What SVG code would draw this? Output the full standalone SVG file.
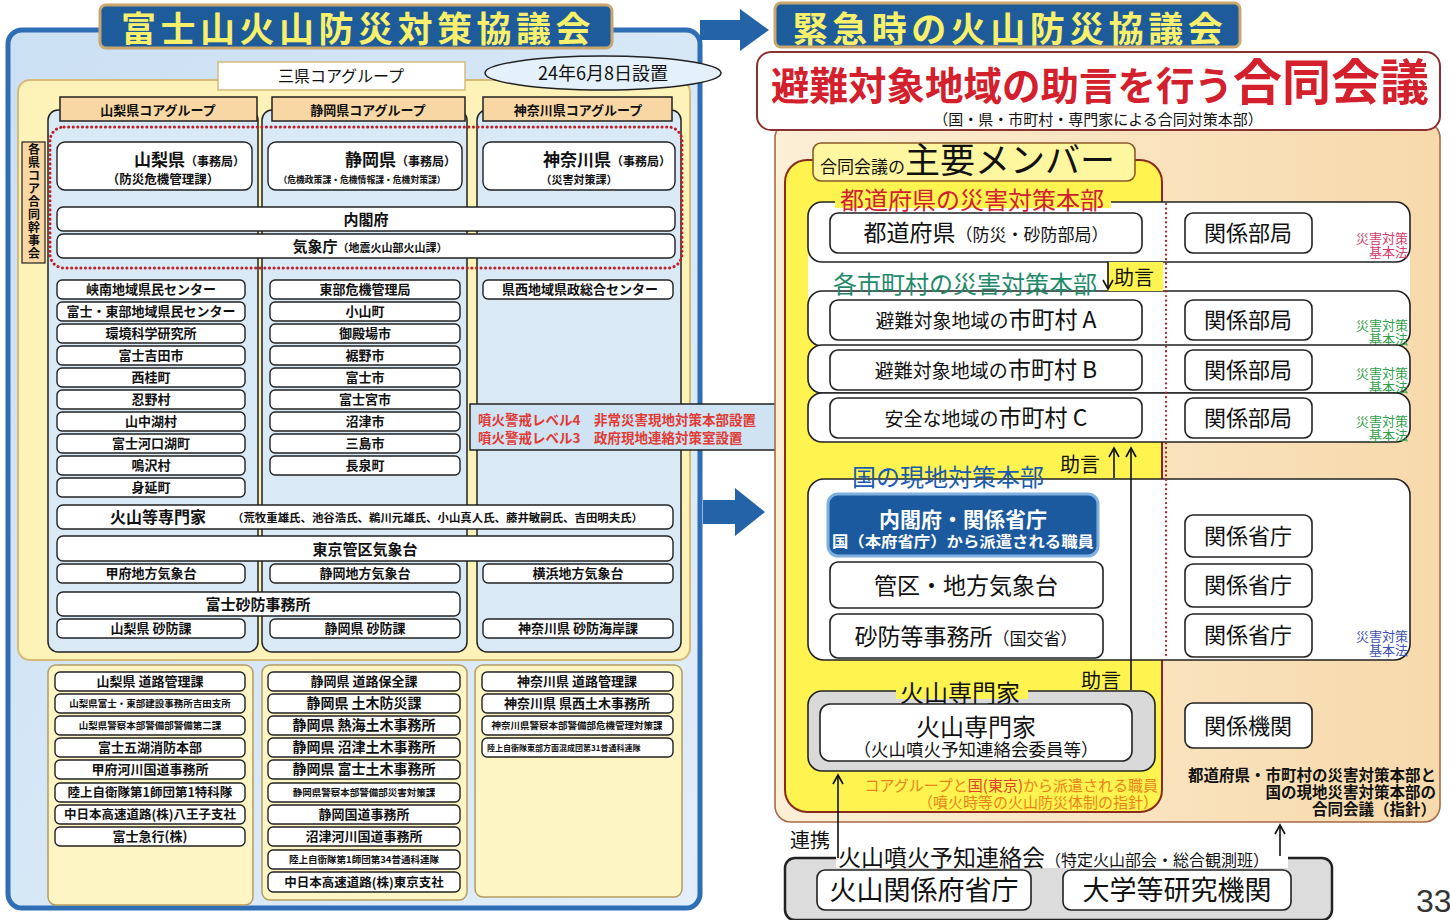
<svg xmlns="http://www.w3.org/2000/svg" width="1450" height="920" viewBox="0 0 1450 920">
<defs>
<style>
text{font-family:"Noto Sans CJK JP","Noto Sans CJK SC","Noto Sans",sans-serif;fill:#111;}
.lb{fill:#fff;stroke:#222;stroke-width:1.4;}
.lt{font-size:13px;font-weight:700;text-anchor:middle;}
.lm{font-size:14px;font-weight:700;text-anchor:middle;}
.ls{font-size:9.5px;font-weight:700;text-anchor:middle;}
.title{font-size:35px;fill:#f8f06a;font-weight:700;text-anchor:middle;letter-spacing:4.5px;}
.tbox{fill:#1d5b9b;stroke:#c8a66e;stroke-width:3;}
.col{fill:#d9e9f6;stroke:#222;stroke-width:1.5;}
.hdr{fill:#f8d7a4;stroke:#222;stroke-width:1.5;}
.ycol{fill:#fdf5c3;stroke:#b79a60;stroke-width:1.5;}
.sec{fill:#fff;stroke:#222;stroke-width:1.6;}
.rb{fill:#fff;stroke:#222;stroke-width:1.6;}
.rt{font-size:22px;text-anchor:middle;}
.law{font-size:13px;text-anchor:end;}
.lbl{font-size:24px;}
.ln{fill:none;stroke:#111;stroke-width:1.6;}
</style>
<marker id="ah" viewBox="0 0 12 12" refX="10" refY="6" markerWidth="12" markerHeight="12" markerUnits="userSpaceOnUse" orient="auto"><path d="M1,1 L10,6 L1,11" fill="none" stroke="#111" stroke-width="1.6"/></marker>
<linearGradient id="gBlue" x1="0" y1="0" x2="1" y2="1"><stop offset="0" stop-color="#cbe0f3"/><stop offset="1" stop-color="#e2eef9"/></linearGradient>
<linearGradient id="gTan" x1="0" y1="0" x2="1" y2="0"><stop offset="0" stop-color="#fcefd6"/><stop offset="1" stop-color="#f7d9ab"/></linearGradient>
</defs>

<!-- ===== LEFT PANEL ===== -->
<g id="left-frame">
<rect x="8" y="30" width="692" height="878" rx="14" fill="url(#gBlue)" stroke="#2f6db5" stroke-width="5"/>
</g>
<g id="left-title">
<rect class="tbox" x="100" y="5" width="512" height="43" rx="6"/>
<text class="title" x="358" y="42">富士山火山防災対策協議会</text>
</g>
<g id="core-area">
<rect x="18" y="80" width="672" height="580" rx="12" fill="#fdf3b8" stroke="#d6ba7c" stroke-width="2"/>
</g>
<g id="core-label">
<rect x="218" y="62" width="247" height="28" fill="#fff" stroke="#d6ba7c" stroke-width="1.5"/>
<text x="341" y="82" font-size="16" text-anchor="middle">三県コアグループ</text>
</g>
<g id="date-ellipse">
<ellipse cx="603" cy="73" rx="118" ry="17" fill="#e4f0fa" stroke="#222" stroke-width="1.5"/>
<text x="603" y="80" font-size="18" text-anchor="middle">24年6月8日設置</text>
</g>

<g id="columns">
<rect class="col" x="48" y="110" width="210" height="542" rx="10"/>
<rect class="col" x="262" y="110" width="205" height="542" rx="10"/>
<rect class="col" x="477" y="110" width="204" height="542" rx="10"/>
</g>
<g id="col-headers">
<rect class="hdr" x="60" y="97" width="197" height="24"/>
<text class="lt" x="158" y="115">山梨県コアグループ</text>
<rect class="hdr" x="272" y="97" width="193" height="24"/>
<text class="lt" x="368" y="115">静岡県コアグループ</text>
<rect class="hdr" x="483" y="97" width="189" height="24"/>
<text class="lt" x="578" y="115">神奈川県コアグループ</text>
</g>

<g id="joint-secretariat">
<rect x="22" y="142" width="23" height="121" fill="#f8d7a4" stroke="#222" stroke-width="1.2"/>
<text font-size="12" font-weight="700" text-anchor="middle"><tspan x="34" y="154">各</tspan><tspan x="34" y="167">県</tspan><tspan x="34" y="180">コ</tspan><tspan x="34" y="193">ア</tspan><tspan x="34" y="206">合</tspan><tspan x="34" y="219">同</tspan><tspan x="34" y="232">幹</tspan><tspan x="34" y="245">事</tspan><tspan x="34" y="258">会</tspan></text>
</g>

<g id="pref-yamanashi">
<rect class="lb" x="57" y="142" width="195" height="48" rx="8"/>
<text x="245" y="166" text-anchor="end" font-weight="700"><tspan font-size="17">山梨県</tspan><tspan font-size="12">（事務局）</tspan></text>
<text x="163" y="184" font-size="12.5" font-weight="700" text-anchor="middle">（防災危機管理課）</text>
</g>
<g id="pref-shizuoka">
<rect class="lb" x="268" y="142" width="194" height="48" rx="8"/>
<text x="456" y="166" text-anchor="end" font-weight="700"><tspan font-size="17">静岡県</tspan><tspan font-size="12">（事務局）</tspan></text>
<text x="362" y="183" font-size="8.8" font-weight="700" text-anchor="middle">（危機政策課・危機情報課・危機対策課）</text>
</g>
<g id="pref-kanagawa">
<rect class="lb" x="483" y="142" width="192" height="48" rx="8"/>
<text x="671" y="166" text-anchor="end" font-weight="700"><tspan font-size="17">神奈川県</tspan><tspan font-size="12">（事務局）</tspan></text>
<text x="579" y="184" font-size="11" font-weight="700" text-anchor="middle">（災害対策課）</text>
</g>
<g id="naikakufu">
<rect class="lb" x="57" y="207" width="618" height="24" rx="6"/>
<text x="366" y="225" font-size="15" font-weight="700" text-anchor="middle">内閣府</text>
</g>
<g id="kishocho">
<rect class="lb" x="57" y="234" width="618" height="24" rx="6"/>
<text x="370" y="252" text-anchor="middle" font-weight="700"><tspan font-size="15">気象庁</tspan><tspan font-size="11">（地震火山部火山課）</tspan></text>
</g>
<g id="dotted-core">
<rect x="50" y="127" width="632" height="141" rx="14" fill="none" stroke="#c0202a" stroke-width="3" stroke-dasharray="0.1 4.5" stroke-linecap="round"/>
</g>

<g id="list-yamanashi">
<rect class="lb" x="57" y="280" width="188" height="19" rx="5"/><text class="lt" x="151" y="294">峡南地域県民センター</text>
<rect class="lb" x="57" y="302" width="188" height="19" rx="5"/><text class="lt" x="151" y="316">富士・東部地域県民センター</text>
<rect class="lb" x="57" y="324" width="188" height="19" rx="5"/><text class="lt" x="151" y="338">環境科学研究所</text>
<rect class="lb" x="57" y="346" width="188" height="19" rx="5"/><text class="lt" x="151" y="360">富士吉田市</text>
<rect class="lb" x="57" y="368" width="188" height="19" rx="5"/><text class="lt" x="151" y="382">西桂町</text>
<rect class="lb" x="57" y="390" width="188" height="19" rx="5"/><text class="lt" x="151" y="404">忍野村</text>
<rect class="lb" x="57" y="412" width="188" height="19" rx="5"/><text class="lt" x="151" y="426">山中湖村</text>
<rect class="lb" x="57" y="434" width="188" height="19" rx="5"/><text class="lt" x="151" y="448">富士河口湖町</text>
<rect class="lb" x="57" y="456" width="188" height="19" rx="5"/><text class="lt" x="151" y="470">鳴沢村</text>
<rect class="lb" x="57" y="478" width="188" height="19" rx="5"/><text class="lt" x="151" y="492">身延町</text>
</g>
<g id="list-shizuoka">
<rect class="lb" x="270" y="280" width="190" height="19" rx="5"/><text class="lt" x="365" y="294">東部危機管理局</text>
<rect class="lb" x="270" y="302" width="190" height="19" rx="5"/><text class="lt" x="365" y="316">小山町</text>
<rect class="lb" x="270" y="324" width="190" height="19" rx="5"/><text class="lt" x="365" y="338">御殿場市</text>
<rect class="lb" x="270" y="346" width="190" height="19" rx="5"/><text class="lt" x="365" y="360">裾野市</text>
<rect class="lb" x="270" y="368" width="190" height="19" rx="5"/><text class="lt" x="365" y="382">富士市</text>
<rect class="lb" x="270" y="390" width="190" height="19" rx="5"/><text class="lt" x="365" y="404">富士宮市</text>
<rect class="lb" x="270" y="412" width="190" height="19" rx="5"/><text class="lt" x="365" y="426">沼津市</text>
<rect class="lb" x="270" y="434" width="190" height="19" rx="5"/><text class="lt" x="365" y="448">三島市</text>
<rect class="lb" x="270" y="456" width="190" height="19" rx="5"/><text class="lt" x="365" y="470">長泉町</text>
</g>
<g id="list-kanagawa">
<rect class="lb" x="483" y="280" width="190" height="19" rx="5"/><text class="lt" x="580" y="294">県西地域県政総合センター</text>
</g>

<g id="experts">
<rect class="lb" x="57" y="505" width="616" height="24" rx="6"/>
<text x="110" y="523" font-size="16" font-weight="700">火山等専門家</text>
<text x="232" y="522" font-size="11" font-weight="700" textLength="411" lengthAdjust="spacingAndGlyphs">（荒牧重雄氏、池谷浩氏、鵜川元雄氏、小山真人氏、藤井敏嗣氏、吉田明夫氏）</text>
</g>
<g id="tokyo-jma">
<rect class="lb" x="57" y="536" width="616" height="25" rx="6"/>
<text x="365" y="555" font-size="15" font-weight="700" text-anchor="middle">東京管区気象台</text>
</g>
<g id="local-jma">
<rect class="lb" x="57" y="564" width="188" height="19" rx="5"/><text class="lt" x="151" y="578">甲府地方気象台</text>
<rect class="lb" x="270" y="564" width="190" height="19" rx="5"/><text class="lt" x="365" y="578">静岡地方気象台</text>
<rect class="lb" x="483" y="564" width="190" height="19" rx="5"/><text class="lt" x="578" y="578">横浜地方気象台</text>
</g>
<g id="fuji-sabo">
<rect class="lb" x="57" y="592" width="403" height="24" rx="6"/>
<text x="258" y="610" font-size="15" font-weight="700" text-anchor="middle">富士砂防事務所</text>
</g>
<g id="pref-sabo">
<rect class="lb" x="57" y="619" width="188" height="19" rx="5"/><text class="lt" x="151" y="633">山梨県 砂防課</text>
<rect class="lb" x="270" y="619" width="190" height="19" rx="5"/><text class="lt" x="365" y="633">静岡県 砂防課</text>
<rect class="lb" x="483" y="619" width="190" height="19" rx="5"/><text class="lt" x="578" y="633">神奈川県 砂防海岸課</text>
</g>

<g id="warning-box">
<rect x="470" y="404" width="342" height="46" fill="#cfe3f3" stroke="#222" stroke-width="1.5"/>
<text x="478" y="425" font-size="13.5" font-weight="700" style="fill:#e03a34">噴火警戒レベル4　非常災害現地対策本部設置</text>
<text x="478" y="443" font-size="13.5" font-weight="700" style="fill:#e03a34">噴火警戒レベル3　政府現地連絡対策室設置</text>
</g>

<g id="bottom-yamanashi">
<rect class="ycol" x="48" y="665" width="205" height="240" rx="8"/>
<rect class="lb" x="55" y="672" width="190" height="19" rx="5"/><text class="lt" x="150" y="686">山梨県 道路管理課</text>
<rect class="lb" x="55" y="694" width="190" height="19" rx="5"/><text class="ls" x="150" y="707">山梨県富士・東部建設事務所吉田支所</text>
<rect class="lb" x="55" y="716" width="190" height="19" rx="5"/><text class="ls" x="150" y="729">山梨県警察本部警備部警備第二課</text>
<rect class="lb" x="55" y="738" width="190" height="19" rx="5"/><text class="lt" x="150" y="752">富士五湖消防本部</text>
<rect class="lb" x="55" y="760" width="190" height="19" rx="5"/><text class="lt" x="150" y="774">甲府河川国道事務所</text>
<rect class="lb" x="55" y="783" width="190" height="19" rx="5"/><text class="lt" x="150" y="797" style="font-size:12.5px">陸上自衛隊第1師団第1特科隊</text>
<rect class="lb" x="55" y="805" width="190" height="19" rx="5"/><text class="lt" x="150" y="819" style="font-size:12.5px">中日本高速道路(株)八王子支社</text>
<rect class="lb" x="55" y="827" width="190" height="19" rx="5"/><text class="lt" x="150" y="841">富士急行(株)</text>
</g>
<g id="bottom-shizuoka">
<rect class="ycol" x="262" y="665" width="205" height="235" rx="8"/>
<rect class="lb" x="268" y="672" width="192" height="19" rx="5"/><text class="lt" x="364" y="686">静岡県 道路保全課</text>
<rect class="lb" x="268" y="694" width="192" height="19" rx="5"/><text class="lm" x="364" y="708">静岡県 土木防災課</text>
<rect class="lb" x="268" y="716" width="192" height="19" rx="5"/><text class="lm" x="364" y="730">静岡県 熱海土木事務所</text>
<rect class="lb" x="268" y="738" width="192" height="19" rx="5"/><text class="lm" x="364" y="752">静岡県 沼津土木事務所</text>
<rect class="lb" x="268" y="760" width="192" height="19" rx="5"/><text class="lm" x="364" y="774">静岡県 富士土木事務所</text>
<rect class="lb" x="268" y="783" width="192" height="19" rx="5"/><text class="ls" x="364" y="796">静岡県警察本部警備部災害対策課</text>
<rect class="lb" x="268" y="805" width="192" height="19" rx="5"/><text class="lt" x="364" y="819">静岡国道事務所</text>
<rect class="lb" x="268" y="827" width="192" height="19" rx="5"/><text class="lt" x="364" y="841">沼津河川国道事務所</text>
<rect class="lb" x="268" y="850" width="192" height="19" rx="5"/><text class="ls" x="364" y="863">陸上自衛隊第1師団第34普通科連隊</text>
<rect class="lb" x="268" y="872" width="192" height="20" rx="5"/><text class="lt" x="364" y="887" style="font-size:12.5px">中日本高速道路(株)東京支社</text>
</g>
<g id="bottom-kanagawa">
<rect class="ycol" x="475" y="665" width="207" height="232" rx="8"/>
<rect class="lb" x="482" y="672" width="191" height="19" rx="5"/><text class="lt" x="577" y="686">神奈川県 道路管理課</text>
<rect class="lb" x="482" y="694" width="191" height="19" rx="5"/><text class="lt" x="577" y="708">神奈川県 県西土木事務所</text>
<rect class="lb" x="482" y="716" width="191" height="19" rx="5"/><text class="ls" x="577" y="729">神奈川県警察本部警備部危機管理対策課</text>
<rect class="lb" x="482" y="738" width="191" height="19" rx="5"/><text x="487" y="751" font-size="8" font-weight="700">陸上自衛隊東部方面混成団第31普通科連隊</text>
</g>

<!-- ===== ARROWS BETWEEN PANELS ===== -->
<g id="connectors-panels">
<polygon points="700,20 740,20 740,9 769,30 740,51 740,40 700,40" fill="#2563a8"/>
<polygon points="703,500 735,500 735,488 765,512 735,536 735,524 703,524" fill="#2563a8"/>
</g>

<!-- ===== RIGHT PANEL ===== -->
<g id="right-title">
<rect class="tbox" x="775" y="3" width="465" height="44" rx="6"/>
<text class="title" x="1010" y="42">緊急時の火山防災協議会</text>
</g>
<g id="right-frame">
<rect x="775" y="122" width="665" height="700" rx="16" fill="url(#gTan)" stroke="#a86a4a" stroke-width="1.6"/>
</g>
<g id="joint-meeting-title">
<rect x="757" y="52" width="683" height="78" rx="14" fill="#fff" stroke="#8a3030" stroke-width="2"/>
<text x="1100" y="100" text-anchor="middle" font-weight="700" style="fill:#d4202c"><tspan font-size="38.5">避難対象地域の助言を行う</tspan><tspan font-size="49">合同会議</tspan></text>
<text x="1098" y="125" font-size="15" text-anchor="middle">（国・県・市町村・専門家による合同対策本部）</text>
</g>
<g id="members-area">
<rect x="785" y="160" width="377" height="652" rx="22" fill="#fff44f" stroke="#8b2a1a" stroke-width="2"/>
<rect x="808" y="255" width="602" height="45" fill="#fff"/>
<rect x="813" y="143" width="322" height="38" rx="8" fill="#fff7a0" stroke="#8b5a2a" stroke-width="1.6"/>
<text x="820" y="173"><tspan font-size="17">合同会議の</tspan><tspan font-size="35">主要メンバー</tspan></text>
</g>

<g id="sec-prefecture">
<rect class="sec" x="808" y="202" width="602" height="60" rx="14"/>
<rect x="835" y="188" width="276" height="20" fill="#fff44f"/>
<text class="lbl" x="840" y="209" style="fill:#d02030">都道府県の災害対策本部</text>
<rect class="rb" x="830" y="213" width="312" height="40" rx="8"/>
<text x="986" y="241" text-anchor="middle"><tspan font-size="23">都道府県</tspan><tspan font-size="17">（防災・砂防部局）</tspan></text>
<rect class="rb" x="1185" y="213" width="127" height="40" rx="8"/>
<text class="rt" x="1248" y="241">関係部局</text>
<text class="law" x="1408" y="243" style="fill:#d63a6a">災害対策</text>
<text class="law" x="1408" y="257" style="fill:#d63a6a">基本法</text>
</g>

<g id="sec-municipal-a">
<rect class="sec" x="808" y="291" width="602" height="55" rx="14"/>
<rect x="830" y="275" width="272" height="15" fill="#fff"/>
<text class="lbl" x="833" y="293" style="fill:#1f8a6a">各市町村の災害対策本部</text>
<rect class="rb" x="830" y="300" width="312" height="40" rx="8"/>
<text x="986" y="328" text-anchor="middle"><tspan font-size="19">避難対象地域の</tspan><tspan font-size="23">市町村 A</tspan></text>
<rect class="rb" x="1185" y="300" width="127" height="40" rx="8"/>
<text class="rt" x="1248" y="328">関係部局</text>
<text class="law" x="1408" y="330" style="fill:#2ea04a">災害対策</text>
<text class="law" x="1408" y="344" style="fill:#2ea04a">基本法</text>
</g>
<g id="sec-municipal-b">
<rect class="sec" x="808" y="345" width="602" height="48" rx="14"/>
<rect class="rb" x="830" y="350" width="312" height="40" rx="8"/>
<text x="986" y="378" text-anchor="middle"><tspan font-size="19">避難対象地域の</tspan><tspan font-size="23">市町村 B</tspan></text>
<rect class="rb" x="1185" y="350" width="127" height="40" rx="8"/>
<text class="rt" x="1248" y="378">関係部局</text>
<text class="law" x="1408" y="378" style="fill:#2ea04a">災害対策</text>
<text class="law" x="1408" y="392" style="fill:#2ea04a">基本法</text>
</g>
<g id="sec-municipal-c">
<rect class="sec" x="808" y="393" width="602" height="49" rx="14"/>
<rect class="rb" x="830" y="398" width="312" height="40" rx="8"/>
<text x="986" y="426" text-anchor="middle"><tspan font-size="19">安全な地域の</tspan><tspan font-size="23">市町村 C</tspan></text>
<rect class="rb" x="1185" y="398" width="127" height="40" rx="8"/>
<text class="rt" x="1248" y="426">関係部局</text>
<text class="law" x="1408" y="426" style="fill:#2ea04a">災害対策</text>
<text class="law" x="1408" y="440" style="fill:#2ea04a">基本法</text>
</g>

<g id="sec-national">
<rect class="sec" x="808" y="479" width="602" height="181" rx="16"/>
<rect x="846" y="465" width="200" height="13" fill="#fff44f"/>
<text class="lbl" x="852" y="486" style="fill:#1a5bb0">国の現地対策本部</text>
<rect x="828" y="494" width="270" height="62" rx="10" fill="#1c5aa0" stroke="#7fb0e0" stroke-width="3"/>
<text x="963" y="527" font-size="21" font-weight="700" text-anchor="middle" style="fill:#fff">内閣府・関係省庁</text>
<text x="963" y="547" font-size="15" font-weight="700" text-anchor="middle" textLength="262" lengthAdjust="spacingAndGlyphs" style="fill:#fff">国（本府省庁）から派遣される職員</text>
<rect class="rb" x="830" y="562" width="273" height="46" rx="8"/>
<text x="966" y="594" font-size="23" text-anchor="middle">管区・地方気象台</text>
<rect class="rb" x="830" y="614" width="273" height="44" rx="8"/>
<text x="966" y="645" text-anchor="middle"><tspan font-size="23">砂防等事務所</tspan><tspan font-size="17">（国交省）</tspan></text>
<rect class="rb" x="1185" y="515" width="127" height="42" rx="8"/>
<text class="rt" x="1248" y="544">関係省庁</text>
<rect class="rb" x="1185" y="564" width="127" height="43" rx="8"/>
<text class="rt" x="1248" y="593">関係省庁</text>
<rect class="rb" x="1185" y="614" width="127" height="43" rx="8"/>
<text class="rt" x="1248" y="643">関係省庁</text>
<text class="law" x="1408" y="641" style="fill:#3a4fb0">災害対策</text>
<text class="law" x="1408" y="655" style="fill:#3a4fb0">基本法</text>
</g>

<g id="sec-volcano-experts">
<rect x="808" y="691" width="347" height="80" rx="14" fill="#d9d9d9" stroke="#222" stroke-width="1.6"/>
<rect x="896" y="681" width="132" height="18" fill="#fff44f"/>
<text class="lbl" x="900" y="702">火山専門家</text>
<rect class="rb" x="820" y="704" width="312" height="57" rx="10"/>
<text x="976" y="736" font-size="24" text-anchor="middle">火山専門家</text>
<text x="976" y="756" font-size="17.5" text-anchor="middle">（火山噴火予知連絡会委員等）</text>
<rect class="rb" x="1185" y="703" width="127" height="45" rx="8"/>
<text class="rt" x="1248" y="734">関係機関</text>
</g>

<g id="notes">
<text x="1158" y="791" font-size="15" text-anchor="end" style="fill:#e8831c">コアグループと<tspan style="fill:#e0402a">国(東京)</tspan>から派遣される職員</text>
<text x="1158" y="808" font-size="15" text-anchor="end" style="fill:#e8831c">（噴火時等の火山防災体制の指針）</text>
<text x="1436" y="781" font-size="15.5" font-weight="700" text-anchor="end">都道府県・市町村の災害対策本部と</text>
<text x="1436" y="798" font-size="15.5" font-weight="700" text-anchor="end">国の現地災害対策本部の</text>
<text x="1436" y="815" font-size="15.5" font-weight="700" text-anchor="end">合同会議（指針）</text>
</g>

<g id="liaison">
<rect x="785" y="858" width="547" height="62" rx="10" fill="#dcdcdc" stroke="#222" stroke-width="2.5"/>
<rect x="836" y="848" width="452" height="20" fill="#fff"/>
<text x="838" y="866"><tspan font-size="23">火山噴火予知連絡会</tspan><tspan font-size="16">（特定火山部会・総合観測班）</tspan></text>
<rect class="rb" x="817" y="870" width="214" height="40" rx="8"/>
<text x="924" y="900" font-size="27" text-anchor="middle">火山関係府省庁</text>
<rect class="rb" x="1063" y="870" width="228" height="40" rx="8"/>
<text x="1177" y="900" font-size="27" text-anchor="middle">大学等研究機関</text>
</g>

<g id="connectors">
<line x1="1166" y1="204" x2="1166" y2="658" stroke="#b02020" stroke-width="2.2" stroke-dasharray="0.1 4.5" stroke-linecap="round"/>
<rect x="1108" y="262" width="55" height="29" fill="#fff44f"/>
<line class="ln" x1="1108" y1="262" x2="1108" y2="289" marker-end="url(#ah)"/>
<text x="1114" y="285" font-size="20">助言</text>
<text x="1060" y="472" font-size="20">助言</text>
<line class="ln" x1="1114" y1="478" x2="1114" y2="448" marker-end="url(#ah)"/>
<line class="ln" x1="1131" y1="690" x2="1131" y2="448" marker-end="url(#ah)"/>
<text x="1081" y="688" font-size="20">助言</text>
<line class="ln" x1="838" y1="858" x2="838" y2="775" marker-end="url(#ah)"/>
<text x="790" y="848" font-size="20">連携</text>
<line class="ln" x1="1280" y1="856" x2="1280" y2="825" marker-end="url(#ah)"/>
</g>

<g id="page-number">
<text x="1416" y="912" font-size="32" style="fill:#333;font-family:'Liberation Sans',sans-serif">33</text>
</g>
</svg>
